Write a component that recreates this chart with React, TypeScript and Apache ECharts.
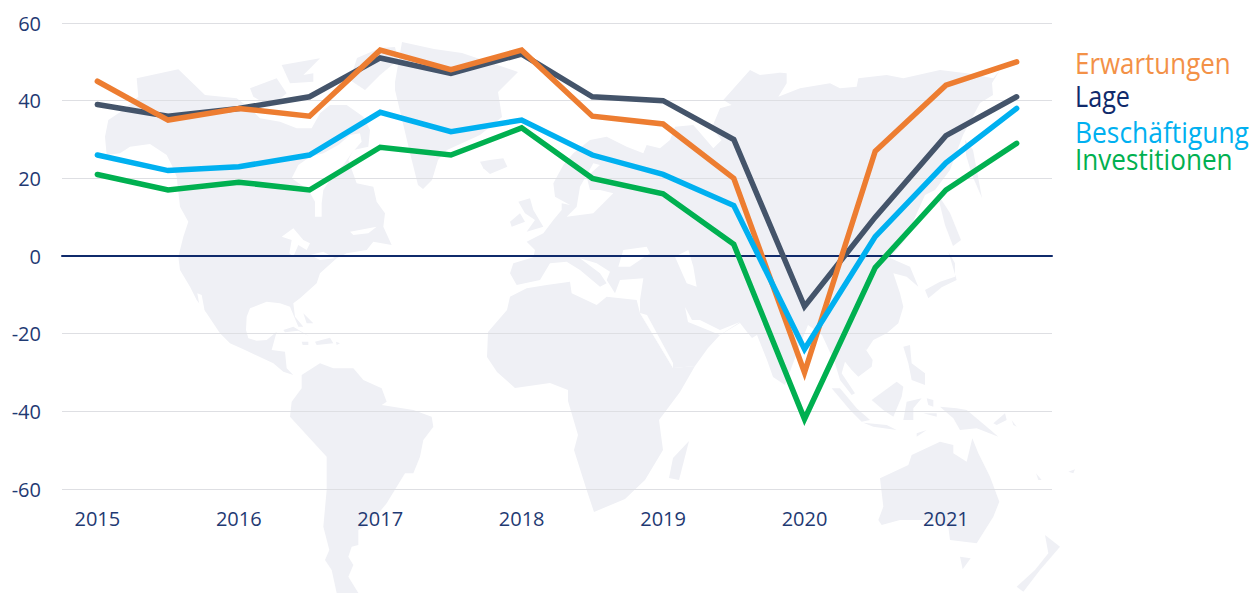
import React, { useEffect, useRef } from "react";
import * as echarts from "echarts";

const categories = ["2015", "2015.5", "2016", "2016.5", "2017", "2017.5", "2018", "2018.5", "2019", "2019.5", "2020", "2020.5", "2021", "2021.5"];
const erwartungen = [45, 35, 38, 36, 53, 48, 53, 36, 34, 20, -30, 27, 44, 50];
const lage = [39, 36, 38, 41, 51, 47, 52, 41, 40, 30, -13, 10, 31, 41];
const beschaeftigung = [26, 22, 23, 26, 37, 32, 35, 26, 21, 13, -24, 5, 24, 38];
const investitionen = [21, 17, 19, 17, 28, 26, 33, 20, 16, 3, -42, -3, 17, 29];
const legendNames = ["Erwartungen", "Lage", "Beschäftigung", "Investitionen"];

type P = number[];
// helpers convert traced crop coordinates (3x) to page pixels
const crop = (ox: number, oy: number) => (pts: P[]): P[] => pts.map(([x, y]) => [ox + x / 3, oy + y / 3]);
const Z3 = crop(90, 50);
const Z4 = crop(230, 300);
const Z5 = crop(430, 50);
const Z6 = crop(760, 50);
const Z7 = crop(740, 330);

const northAmerica: P[] = Z3([[140, 85], [265, 58], [345, 135], [440, 145], [480, 175], [510, 205], [570, 215], [620, 235], [665, 235], [690, 190], [720, 165], [770, 165], [820, 200], [840, 240], [835, 290], [790, 300], [775, 330], [800, 400], [850, 410], [860, 455], [885, 490], [880, 530], [905, 585], [850, 575], [830, 600], [770, 610], [740, 625], [690, 670], [680, 700], [630, 745], [610, 760], [615, 800], [640, 830], [625, 830], [600, 770], [570, 760], [530, 755], [480, 775], [470, 800], [468, 840], [475, 865], [500, 872], [530, 870], [560, 845], [545, 900], [585, 905], [590, 955], [610, 975], [580, 965], [550, 940], [465, 900], [420, 880], [390, 850], [350, 790], [320, 750], [300, 710], [270, 660], [265, 620], [280, 560], [295, 515], [270, 470], [260, 380], [245, 345], [230, 315], [180, 282], [120, 290], [90, 310], [50, 315], [45, 260], [55, 210], [100, 180], [145, 140]]);
const southAmerica: P[] = Z4([[215, 225], [270, 190], [310, 205], [370, 205], [400, 240], [455, 265], [470, 305], [455, 315], [550, 330], [605, 350], [610, 380], [580, 420], [570, 470], [550, 520], [525, 520], [470, 610], [420, 670], [385, 690], [385, 735], [365, 740], [355, 770], [370, 795], [355, 830], [385, 879], [320, 879], [305, 810], [285, 780], [298, 750], [280, 680], [290, 570], [290, 470], [180, 350], [185, 305], [215, 265]]);
const greenland: P[] = [[402, 42], [434, 49], [462, 53], [518, 72], [498, 92], [502, 117], [480, 135], [447, 150], [438, 160], [432, 180], [423, 189], [418, 185], [410, 153], [395, 90], [395, 82]];
const ellesmere: P[] = [[357, 58], [380, 48], [395, 47], [398, 60], [380, 75], [365, 90], [350, 80]];
const arcticA: P[] = Z3([[575, 45], [690, 25], [665, 50], [640, 75], [670, 70], [670, 95], [600, 100]]);
const arcticB: P[] = Z3([[480, 115], [560, 85], [590, 130], [540, 170], [490, 140]]);
const iceland: P[] = Z5([[150, 335], [180, 330], [220, 325], [232, 350], [180, 372], [160, 355]]);
const britain: P[] = Z5([[265, 455], [300, 445], [310, 480], [340, 530], [290, 545], [315, 510], [285, 490]]);
const ireland: P[] = Z5([[240, 515], [270, 490], [285, 515], [245, 530]]);
const eurasia: P[] = [
  ...Z5([[370, 400], [400, 345], [430, 310], [480, 270], [530, 260], [590, 290], [640, 310], [650, 285], [690, 295], [720, 270], [735, 230], [790, 225], [850, 295], [875, 270], [845, 235], [870, 175], [905, 165], [880, 150], [960, 60], [990, 75], [1050, 68]]),
  ...Z6([[30, 65], [80, 70], [80, 100], [55, 140], [120, 115], [210, 100], [240, 115], [290, 110], [295, 85], [380, 75], [430, 85], [540, 60], [620, 70], [700, 85]]),
  [1000, 70], [992, 83], [993, 95], [980, 103], [963, 135], [950, 170], [935, 190], [925, 195], [905, 240], [890, 258],
  ...Z6([[450, 650], [475, 710], [440, 680], [400, 670], [420, 730], [430, 770], [415, 820], [380, 850], [340, 870], [320, 900]]),
  ...Z7([[375, 55], [398, 90], [395, 110], [355, 140], [335, 120], [315, 95], [305, 130], [345, 190], [335, 195], [300, 150], [285, 100]]),
  [822, 335], [808, 325], [798, 350], [785, 385], [773, 377], [767, 360], [757, 335], [752, 338], [747, 332], [740, 323], [720, 335], [708, 348], [695, 366], [673, 368], [640, 313],
  ...Z5([[630, 750], [640, 685], [570, 690], [555, 730], [530, 690], [540, 665], [500, 640], [450, 625], [470, 640], [510, 670], [530, 700], [510, 710], [450, 660], [410, 635], [360, 640], [330, 690], [260, 705], [240, 670], [250, 640], [310, 622], [315, 600], [290, 575], [340, 550], [370, 510], [395, 480], [395, 460], [420, 465], [375, 440]]),
];
const africa: P[] = [
  ...Z5([[240, 740], [290, 715], [350, 705], [420, 695], [425, 730], [500, 765], [530, 740], [620, 750], [630, 790]]),
  [673, 368], [695, 366], [680, 392], [659, 420], [663, 450], [645, 480], [625, 499], [594, 512], [586, 488], [574, 450], [578, 435], [568, 401], [568, 390], [550, 383], [515, 388], [497, 372], [487, 357], [488, 332], [507, 310],
];
const madagascar: P[] = [[689, 441], [679, 480], [669, 478], [673, 458]];
const kamchatka: P[] = [[965, 140], [973, 150], [982, 198], [972, 175], [966, 155]];
const sakhalin: P[] = [[937, 193], [950, 213], [961, 240], [953, 246], [945, 225]];
const japan: P[] = Z6([[565, 605], [585, 640], [585, 680], [540, 695], [495, 720], [505, 745], [545, 712], [590, 690]]);
const sumatra: P[] = Z7([[275, 175], [300, 175], [350, 235], [390, 270], [365, 275], [330, 240]]);
const java: P[] = Z7([[370, 278], [440, 285], [470, 300], [400, 290]]);
const borneo: P[] = Z7([[395, 210], [470, 155], [490, 170], [485, 200], [460, 260], [430, 240]]);
const sulawesi: P[] = Z7([[490, 270], [500, 215], [545, 205], [520, 235], [520, 270]]);
const philippines: P[] = Z7([[490, 50], [510, 45], [515, 100], [555, 130], [555, 165], [515, 150], [505, 100]]);
const papua: P[] = Z7([[600, 230], [650, 235], [680, 240], [740, 290], [775, 320], [710, 295], [660, 300], [640, 265]]);
const smallIslands: P[][] = [
  Z7([[560, 205], [580, 210], [580, 230], [565, 225]]),
  Z7([[530, 310], [560, 300], [530, 320]]),
  Z7([[550, 250], [590, 250], [590, 260]]),
  Z7([[760, 280], [795, 250], [800, 270], [770, 285]]),
  Z7([[815, 270], [830, 290], [820, 285]]),
  Z7([[888, 430], [905, 450], [895, 450]]),
  Z7([[985, 425], [1005, 418], [1000, 430]]),
  Z4([[160, 90], [190, 80], [240, 110], [205, 92], [165, 97]]),
  Z4([[215, 125], [235, 125], [235, 135], [218, 135]]),
  Z4([[255, 125], [300, 113], [310, 130], [260, 135]]),
  Z4([[318, 125], [330, 130], [320, 135]]),
  Z4([[220, 40], [250, 70], [230, 70]]),
];
const australia: P[] = Z7([[420, 445], [505, 405], [515, 375], [600, 335], [640, 345], [640, 370], [680, 395], [697, 325], [715, 370], [750, 440], [778, 515], [760, 560], [710, 640], [630, 630], [625, 590], [570, 570], [480, 570], [425, 585], [415, 570], [430, 530]]);
const tasmania: P[] = Z7([[660, 680], [692, 685], [668, 718]]);
const newZealand: P[] = Z7([[915, 615], [960, 650], [900, 720], [850, 785], [830, 770], [885, 720], [925, 670]]);

const landShapes: P[][] = [northAmerica, southAmerica, greenland, ellesmere, arcticA, arcticB, iceland, britain, ireland, eurasia, africa, madagascar, kamchatka, sakhalin, japan, sumatra, java, borneo, sulawesi, philippines, papua, ...smallIslands, australia, tasmania, newZealand];

const waterShapes: P[][] = [
  Z3([[605, 385], [625, 345], [660, 320], [700, 310], [745, 285], [780, 255], [810, 250], [815, 275], [785, 310], [760, 345], [730, 375], [700, 420], [695, 460], [695, 500], [675, 500], [675, 455], [655, 420]]),
  Z3([[575, 560], [610, 535], [640, 570], [660, 580], [650, 600], [625, 585], [610, 620], [598, 610], [605, 570]]),
  Z3([[660, 615], [700, 605], [735, 625], [690, 630]]),
  Z3([[780, 545], [860, 530], [835, 550], [790, 555]]),
  Z3([[322, 730], [335, 735], [350, 815], [330, 775]]),
  Z5([[565, 650], [580, 600], [650, 590], [660, 610], [600, 650]]),
  Z5([[735, 620], [775, 600], [790, 650], [800, 710], [770, 700]]),
  Z5([[410, 500], [490, 490], [520, 460], [550, 430], [510, 420], [480, 420], [470, 380], [510, 345], [490, 340], [450, 410], [440, 470]]),
  [[640, 313], [647, 315], [673, 363], [673, 368]],
  [[685, 307], [692, 320], [700, 320], [720, 330], [740, 322], [720, 335], [698, 326], [688, 322]],
];

const TICK = "#1F3A73";
const FONT = "'Open Sans', sans-serif";

export default function App() {
  const ref = useRef<HTMLDivElement>(null);
  useEffect(() => {
    const chart = echarts.init(ref.current!, null, { renderer: "svg" });
    const line = (name: string, data: number[], color: string, z: number) => ({
      name,
      type: "line",
      data,
      z,
      symbol: "none",
      smooth: false,
      lineStyle: { color, width: 5.5, cap: "round", join: "miter", miterLimit: 20 },
    });
    const legendItems = [
      { text: legendNames[0], y: 62, color: "#F39147", scale: 0.865 },
      { text: legendNames[1], y: 95, color: "#0F2A6B", scale: 0.84 },
      { text: legendNames[2], y: 131, color: "#00B0F0", scale: 0.88 },
      { text: legendNames[3], y: 158, color: "#00B050", scale: 0.87 },
    ];
    chart.setOption({
      animation: false,
      grid: { left: 62, right: 198, top: 23, bottom: 104 },
      graphic: {
        z: -1,
        elements: [
          ...landShapes.map((points) => ({ type: "polygon", silent: true, shape: { points }, style: { fill: "#EFF0F5" } })),
          ...waterShapes.map((points) => ({ type: "polygon", silent: true, shape: { points }, style: { fill: "#FFFFFF" } })),
          ...legendItems.map((l) => ({
            type: "text",
            z: 10,
            x: 1075,
            y: l.y,
            scaleX: l.scale,
            style: { text: l.text, fill: l.color, font: "30px 'Open Sans', sans-serif", textVerticalAlign: "middle", textAlign: "left" },
          })),
        ],
      },
      xAxis: [
        {
          type: "category",
          data: categories,
          boundaryGap: true,
          axisLine: { show: false, onZero: false },
          axisTick: { show: false },
          splitLine: { show: false },
          axisLabel: {
            color: TICK,
            fontFamily: FONT,
            fontSize: 20,
            margin: 19,
            interval: 0,
            formatter: (v: string) => (v.includes(".") ? "" : v),
          },
        },
        {
          type: "category",
          data: categories,
          position: "bottom",
          axisLine: { show: true, onZero: true, lineStyle: { color: "#0F2A6B", width: 2 } },
          axisTick: { show: false },
          axisLabel: { show: false },
          splitLine: { show: false },
        },
      ],
      yAxis: {
        type: "value",
        min: -60,
        max: 60,
        interval: 20,
        axisLine: { show: false },
        axisTick: { show: false },
        axisLabel: { color: TICK, fontFamily: FONT, fontSize: 20, margin: 21 },
        splitLine: { lineStyle: { color: "#DEDFE3", width: 1 } },
      },
      series: [
        line(legendNames[1], lage, "#44546A", 2),
        line(legendNames[0], erwartungen, "#ED7D31", 3),
        line(legendNames[2], beschaeftigung, "#00B0F0", 4),
        line(legendNames[3], investitionen, "#00B050", 5),
      ],
    });
    return () => chart.dispose();
  }, []);
  return <div ref={ref} style={{ position: "absolute", left: 0, top: 0, width: 1250, height: 593 }} />;
}
